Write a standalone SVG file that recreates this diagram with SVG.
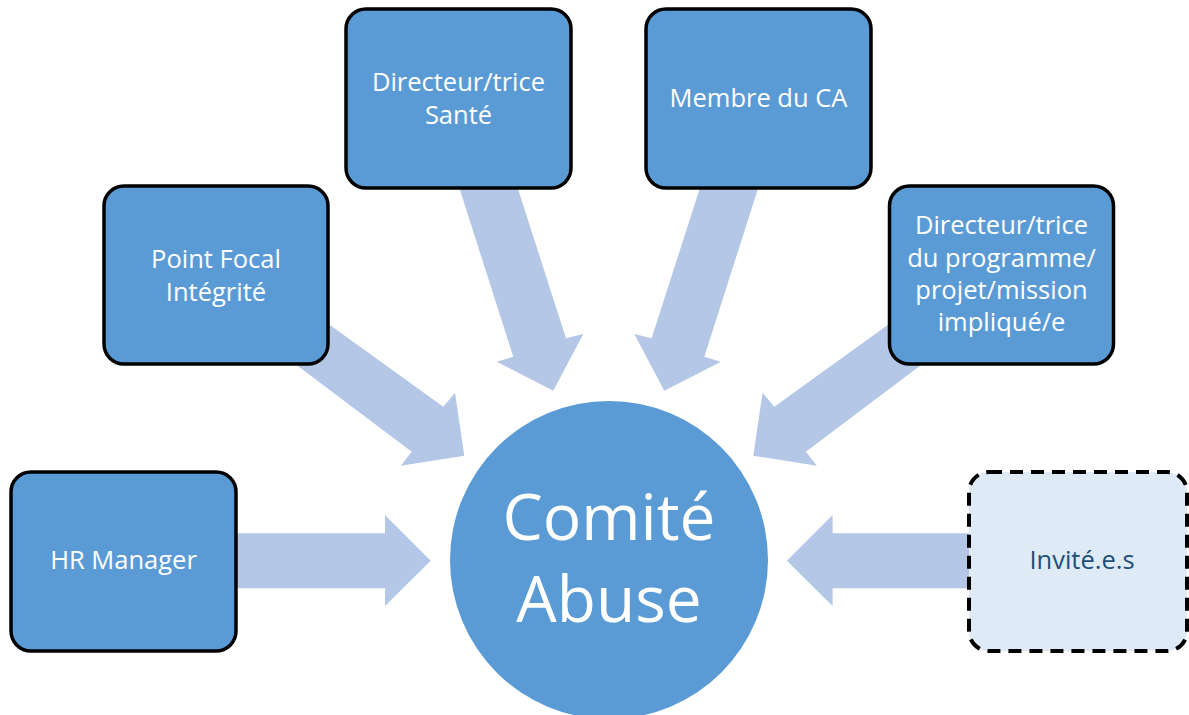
<svg xmlns="http://www.w3.org/2000/svg" width="1189" height="715" viewBox="0 0 1189 715">
  <style>
    .box { fill: #5b9bd5; stroke: #000000; stroke-width: 3.5; }
    .guest { fill: #deebf7; stroke: #000000; stroke-width: 4; stroke-dasharray: 13 8; }
    .arrow { fill: #b4c7e7; }
    .lbl { font-family: "Open Sans", "Liberation Sans", sans-serif; font-size: 25.5px; fill: #ffffff; text-anchor: middle; }
    .lbl-dark { fill: #1f4e79; }
    .hub { fill: #5b9bd5; }
    .hub-lbl { font-family: "Open Sans", "Liberation Sans", sans-serif; font-size: 64px; fill: #ffffff; text-anchor: middle; }
  </style>

  <rect width="1189" height="715" fill="#ffffff"/>

  <!-- block arrows pointing towards the committee -->
  <g id="connectors">
    <polygon class="arrow" points="228,533.3 385,533.3 385,515 430.7,560.7 385,606 385,588.3 228,588.3"/>
    <polygon class="arrow" points="300,303.4 443.3,406.7 455,392.7 464.3,455.7 400.7,465.7 411.7,451.7 270,345"/>
    <polygon class="arrow" points="455.2,175 513.3,356.7 496.7,361.7 553.3,390.7 583.3,334 566,338.3 513.5,175"/>
    <polygon class="arrow" points="762.4,175 704.3,356.7 720.9,361.7 664.3,390.7 634.3,334 651.6,338.3 704.1,175"/>
    <polygon class="arrow" points="917.6,303.4 774.3,406.7 762.6,392.7 753.3,455.7 816.9,465.7 805.9,451.7 947.6,345"/>
    <polygon class="arrow" points="985,533.3 832.6,533.3 832.6,515 786.9,560.7 832.6,606 832.6,588.3 985,588.3"/>
  </g>

  <g id="hr-manager">
    <rect class="box" x="11" y="472" width="225" height="179" rx="20"/>
    <text class="lbl" x="123.5" y="569">HR Manager</text>
  </g>

  <g id="point-focal">
    <rect class="box" x="104" y="186" width="224" height="178" rx="20"/>
    <text class="lbl" x="216" y="268">Point Focal</text>
    <text class="lbl" x="216" y="300.5">Intégrité</text>
  </g>

  <g id="directeur-sante">
    <rect class="box" x="346" y="9" width="225" height="179" rx="20"/>
    <text class="lbl" x="458.5" y="91">Directeur/trice</text>
    <text class="lbl" x="458.5" y="123.5">Santé</text>
  </g>

  <g id="membre-ca">
    <rect class="box" x="646" y="9" width="225" height="179" rx="20"/>
    <text class="lbl" x="758.5" y="107">Membre du CA</text>
  </g>

  <g id="directeur-programme">
    <rect class="box" x="889.5" y="186" width="224" height="178" rx="20"/>
    <text class="lbl" x="1001.5" y="234">Directeur/trice</text>
    <text class="lbl" x="1001.5" y="266.5">du programme/</text>
    <text class="lbl" x="1001.5" y="298.5">projet/mission</text>
    <text class="lbl" x="1001.5" y="331">impliqué/e</text>
  </g>

  <g id="invites">
    <rect class="guest" x="969" y="472" width="218" height="179" rx="20"/>
    <text class="lbl lbl-dark" x="1082" y="569">Invité.e.s</text>
  </g>

  <g id="comite-abuse">
    <circle class="hub" cx="609" cy="560" r="159"/>
    <text class="hub-lbl" x="609" y="540">Comité</text>
    <text class="hub-lbl" x="609" y="622">Abuse</text>
  </g>
</svg>
